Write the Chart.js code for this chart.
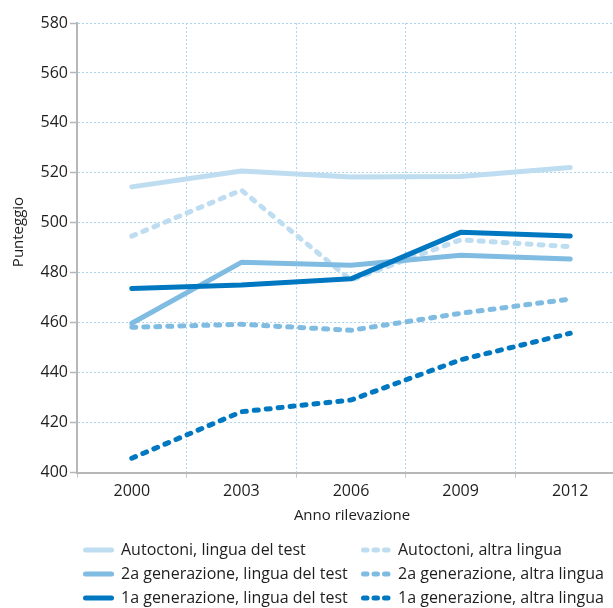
<!DOCTYPE html>
<html>
<head>
<meta charset="utf-8">
<script src="https://cdn.jsdelivr.net/npm/chart.js@4"></script>
<style>
  html, body { margin: 0; padding: 0; overflow: hidden; background: #fff; width: 613px; height: 608px; }
  #wrap { position: absolute; left: 0; top: 0; width: 625px; height: 608px; }
</style>
</head>
<body>
<div id="wrap"><canvas id="c" width="625" height="608"></canvas></div>
<script>
const years = ['2000', '2003', '2006', '2009', '2012'];
const autLingua  = [514.4, 520.8, 518.4, 518.6, 522.2];
const gen2Lingua = [459.8, 484.2, 483.0, 487.0, 485.5];
const gen1Lingua = [473.7, 475.1, 477.6, 496.2, 494.7];
const autAltra   = [494.7, 513.1, 477.1, 493.2, 490.5];
const gen2Altra  = [458.2, 459.4, 457.0, 463.8, 469.5];
const gen1Altra  = [405.8, 424.4, 429.1, 445.2, 455.8];
const seriesLabels = [
  'Autoctoni, lingua del test',
  '2a generazione, lingua del test',
  '1a generazione, lingua del test',
  'Autoctoni, altra lingua',
  '2a generazione, altra lingua',
  '1a generazione, altra lingua'
];
const yMin = 400, yMax = 580, yStep = 20;
const xTitle = 'Anno rilevazione';
const yTitle = 'Punteggio';

const cLight = 'rgb(190,221,241)';
const cMid = 'rgb(128,188,226)';
const cDark = 'rgb(0,120,193)';
const DASH = [4, 8];
const FONT = '"Open Sans", "Noto Sans", sans-serif';
const TXT = '#1e1e1e';

function ds(label, data, color, dashed) {
  return {
    label, data,
    borderColor: color, backgroundColor: color,
    borderWidth: 5, borderDash: dashed ? DASH : [],
    borderCapStyle: 'round', borderJoinStyle: 'round',
    pointRadius: 0, pointHoverRadius: 0, tension: 0, fill: false
  };
}

const datasets = [
  ds(seriesLabels[2], gen1Lingua, cDark, false),
  ds(seriesLabels[1], gen2Lingua, cMid, false),
  ds(seriesLabels[0], autLingua, cLight, false),
  ds(seriesLabels[5], gen1Altra, cDark, true),
  ds(seriesLabels[4], gen2Altra, cMid, true),
  ds(seriesLabels[3], autAltra, cLight, true)
];

const legendOrder = [2, 1, 0, 5, 4, 3]; // dataset index in grid order (col-major)

const extras = {
  id: 'extras',
  afterDraw(chart) {
    const ctx = chart.ctx;
    ctx.save();
    // axis titles
    ctx.fillStyle = TXT;
    ctx.font = '15px ' + FONT;
    ctx.textAlign = 'center';
    ctx.textBaseline = 'middle';
    ctx.fillText(xTitle, 352, 516);
    ctx.save();
    ctx.translate(19, 232);
    ctx.rotate(-Math.PI / 2);
    ctx.fillText(yTitle, 0, 0);
    ctx.restore();
    // legend
    const colLine = [[85.5, 111.5], [363.5, 388.5]];
    const colText = [121, 398];
    const rowY = [550, 574, 598];
    legendOrder.forEach((di, k) => {
      const col = Math.floor(k / 3), row = k % 3;
      const d = chart.data.datasets[di];
      const y = rowY[row];
      ctx.save();
      ctx.strokeStyle = d.borderColor;
      ctx.lineWidth = d.borderWidth;
      ctx.lineCap = 'round';
      ctx.setLineDash(d.borderDash && d.borderDash.length ? [3.5, 7] : []);
      ctx.beginPath();
      ctx.moveTo(colLine[col][0], y);
      ctx.lineTo(colLine[col][1], y);
      ctx.stroke();
      ctx.restore();
      ctx.fillStyle = TXT;
      ctx.font = '16px ' + FONT;
      ctx.textAlign = 'left';
      ctx.textBaseline = 'middle';
      ctx.fillText(d.label, colText[col], y);
    });
    ctx.restore();
  }
};

new Chart(document.getElementById('c'), {
  type: 'line',
  data: { labels: years, datasets },
  options: {
    responsive: false,
    animation: false,
    layout: { padding: { top: 23, left: 0, right: 0, bottom: 0 } },
    plugins: { legend: { display: false }, tooltip: { enabled: false }, title: { display: false } },
    scales: {
      x: {
        type: 'category',
        offset: true,
        afterFit(scale) { scale.height = 135.3; },
        grid: {
          offset: true,
          color: 'rgb(175,214,240)',
          lineWidth: 1,
          tickColor: 'rgb(185,200,215)',
          tickBorderDash: [],
          tickLength: 5,
          drawTicks: true
        },
        border: { display: true, color: '#b7b7b7', width: 2, dash: [2, 2] },
        ticks: { color: TXT, font: { family: FONT, size: 16 }, padding: 4, maxRotation: 0 }
      },
      y: {
        min: yMin, max: yMax,
        afterFit(scale) { scale.width = 77; },
        grid: {
          color: 'rgb(175,214,240)',
          lineWidth: 1,
          tickColor: '#b7b7b7',
          tickBorderDash: [],
          tickLength: 7,
          tickWidth: 1.5
        },
        border: { display: true, color: '#b7b7b7', width: 2, dash: [2, 2] },
        ticks: { stepSize: yStep, color: TXT, font: { family: FONT, size: 16 }, padding: 2 }
      }
    }
  },
  plugins: [extras]
});
</script>
</body>
</html>
